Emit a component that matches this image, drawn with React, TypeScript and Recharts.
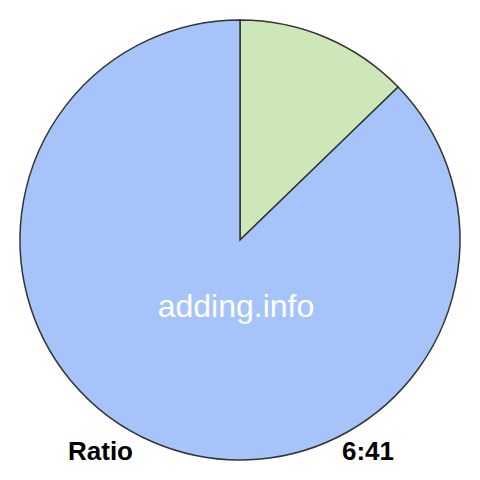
import React from 'react';
import { PieChart, Pie, Cell } from 'recharts';

const names = ['6', '41'];
const values = [6, 41];
const colors = ['#cde7b8', '#a6c4fa'];
const ratioLabel = 'Ratio';
const ratioText = '6:41';
const watermark = 'adding.info';

const data = names.map((name, i) => ({ name, value: values[i] }));

const font = '"Liberation Sans", Arial, Helvetica, sans-serif';

export default function App() {
  return (
    <div style={{ position: 'fixed', left: 0, top: 0, width: 480, height: 480, background: '#fff' }}>
      <PieChart width={480} height={480} margin={{ top: 0, right: 0, bottom: 0, left: 0 }}>
        <Pie
          data={data}
          dataKey="value"
          nameKey="name"
          cx={240}
          cy={240}
          outerRadius={220}
          startAngle={90}
          endAngle={-270}
          stroke="#333"
          strokeWidth={1.5}
          isAnimationActive={false}
        >
          {data.map((d, i) => (
            <Cell key={d.name} fill={colors[i]} />
          ))}
        </Pie>
      </PieChart>
      <svg width={480} height={480} style={{ position: 'absolute', left: 0, top: 0, pointerEvents: 'none' }}>
        <text x={236} y={317} textAnchor="middle" fill="#fff" fontSize={32} fontFamily={font}>
          {watermark}
        </text>
        <text x={68} y={460} fill="#000" fontSize={26} fontWeight="bold" fontFamily={font}>
          {ratioLabel}
        </text>
        <text x={394} y={460} textAnchor="end" fill="#000" fontSize={26} fontWeight="bold" fontFamily={font}>
          {ratioText}
        </text>
      </svg>
    </div>
  );
}
